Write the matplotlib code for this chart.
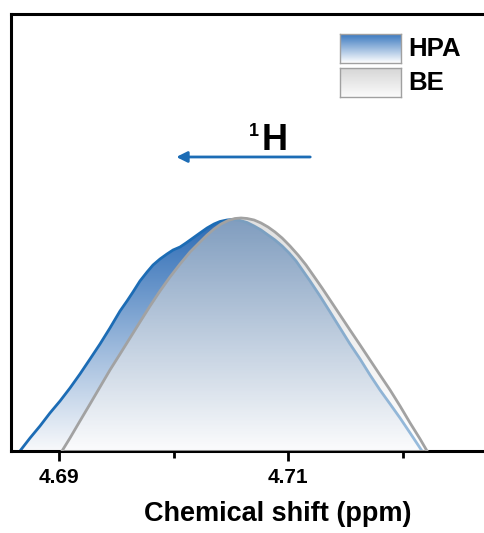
import numpy as np
import matplotlib.pyplot as plt
from matplotlib.colors import LinearSegmentedColormap

# data (ppm, intensity in arbitrary units)
hpa_ppm = [4.68581, 4.68659, 4.68747, 4.68834, 4.68921, 4.69009, 4.69096, 4.69183, 4.69271,
           4.69358, 4.69445, 4.69533, 4.69594, 4.69646, 4.69707, 4.69769, 4.69821, 4.69882,
           4.69943, 4.69996, 4.70057, 4.70109, 4.70170, 4.70231, 4.70293, 4.70354, 4.70406,
           4.70467, 4.70520, 4.70581, 4.70642, 4.70703, 4.70764, 4.70825, 4.70886, 4.70948,
           4.71009, 4.71070, 4.71131, 4.71192, 4.71279, 4.71367, 4.71454, 4.71541, 4.71629,
           4.71716, 4.71803, 4.71891, 4.71978, 4.72066, 4.72170, 4.72240]
hpa_int = [-11, 0, 13, 25, 38, 50, 63, 77, 92,
           107, 123, 140, 150, 159, 170, 179, 186, 192,
           197, 201, 204, 208, 213, 218, 223, 227, 229.5,
           231, 231.5, 230.5, 228.5, 225, 221, 216, 211, 205,
           198, 190, 180, 170, 155, 139, 123, 107, 92,
           76, 61, 47, 33, 18, 0, -11]

be_ppm = [4.69026, 4.69096, 4.69183, 4.69271, 4.69358, 4.69445, 4.69533, 4.69620, 4.69707,
          4.69795, 4.69882, 4.69969, 4.70057, 4.70144, 4.70231, 4.70293, 4.70354, 4.70415,
          4.70476, 4.70537, 4.70590, 4.70642, 4.70703, 4.70764, 4.70825, 4.70886, 4.70948,
          4.71017, 4.71087, 4.71157, 4.71218, 4.71297, 4.71367, 4.71454, 4.71541, 4.71629,
          4.71716, 4.71803, 4.71891, 4.71978, 4.72066, 4.72153, 4.72214, 4.72284]
be_int = [0, 13, 30, 47, 64, 81, 97, 113, 129,
          145, 160, 174, 187, 199, 209, 216, 222, 227,
          230.5, 232.5, 233, 232.5, 231, 228, 224, 219, 213,
          205, 196, 186, 176, 163, 151, 136, 121, 106,
          91, 76, 61, 45, 28, 12, 0, -11]

tick_major = [4.69, 4.71]
tick_minor = [4.70, 4.72]

plt.rcParams['font.family'] = 'Liberation Sans'
plt.rcParams['font.weight'] = 'bold'

fig = plt.figure(figsize=(4.85, 5.33), dpi=100)
ax = fig.add_axes([0.0227, 0.1538, 0.992, 0.82])

hpa_cmap = LinearSegmentedColormap.from_list('hpa', ['#f8f9fb', '#2a6ab5'])
be_cmap = LinearSegmentedColormap.from_list('be', ['#ffffff', '#c8c8c8'])
grad = np.linspace(0, 1, 256).reshape(-1, 1)


def gradient_fill(x, y, cmap, alpha, z):
    poly = ax.fill_between(x, y, -20, facecolor='none', edgecolor='none', zorder=z)
    im = ax.imshow(grad, cmap=cmap, aspect='auto', origin='lower', alpha=alpha,
                   extent=[min(x), max(x), 0, max(y)], zorder=z)
    im.set_clip_path(poly.get_paths()[0], transform=ax.transData)


gradient_fill(hpa_ppm, hpa_int, hpa_cmap, 1.0, 1)
ax.plot(hpa_ppm, hpa_int, color='#1c6cb5', lw=2, zorder=2, solid_joinstyle='round')
gradient_fill(be_ppm, be_int, be_cmap, 0.55, 3)
ax.plot(be_ppm, be_int, color='#a2a2a2', lw=2, zorder=4, solid_joinstyle='round')
ax.set_xlim(4.68581, 4.72782)
ax.set_ylim(0, 437)

# arrow and nucleus label
ax.annotate('', xy=(4.70, 294), xytext=(4.71218, 294),
            arrowprops=dict(arrowstyle='-|>', color='#1c6cb5', lw=2, mutation_scale=16))
ax.text(4.70770, 301, 'H', fontsize=26, fontweight='bold', ha='left', va='baseline')
ax.text(4.70745, 315, '1', fontsize=13, fontweight='bold', ha='right', va='baseline')

for s in ax.spines.values():
    s.set_linewidth(2.2)
ax.set_yticks([])
ax.set_xticks(tick_major)
ax.set_xticklabels(['4.69', '4.71'])
ax.set_xticks(tick_minor, minor=True)
ax.tick_params(axis='x', which='major', direction='out', length=7, width=2, labelsize=15, pad=5)
ax.tick_params(axis='x', which='minor', direction='out', length=5, width=2)
ax.set_xlabel('Chemical shift (ppm)', fontsize=19.5, fontweight='bold')
ax.xaxis.set_label_coords(0.555, -0.115)

# legend boxes with gradients
legend = [('HPA', '#3a78bf', '#ffffff', 0.882), ('BE', '#d6d6d6', '#fbfbfb', 0.818)]
for name, c_top, c_bot, b in legend:
    lax = fig.add_axes([0.701, b, 0.126, 0.0544])
    cm = LinearSegmentedColormap.from_list(name, [c_bot, c_top])
    lax.imshow(grad, cmap=cm, aspect='auto', origin='lower', extent=[0, 1, 0, 1])
    lax.set_xticks([])
    lax.set_yticks([])
    for s in lax.spines.values():
        s.set_color('#a0a0a0')
        s.set_linewidth(1)
    fig.text(0.841, b + 0.027, name, fontsize=18.5, fontweight='bold', va='center', ha='left')

fig.savefig('out.png', dpi=100)
